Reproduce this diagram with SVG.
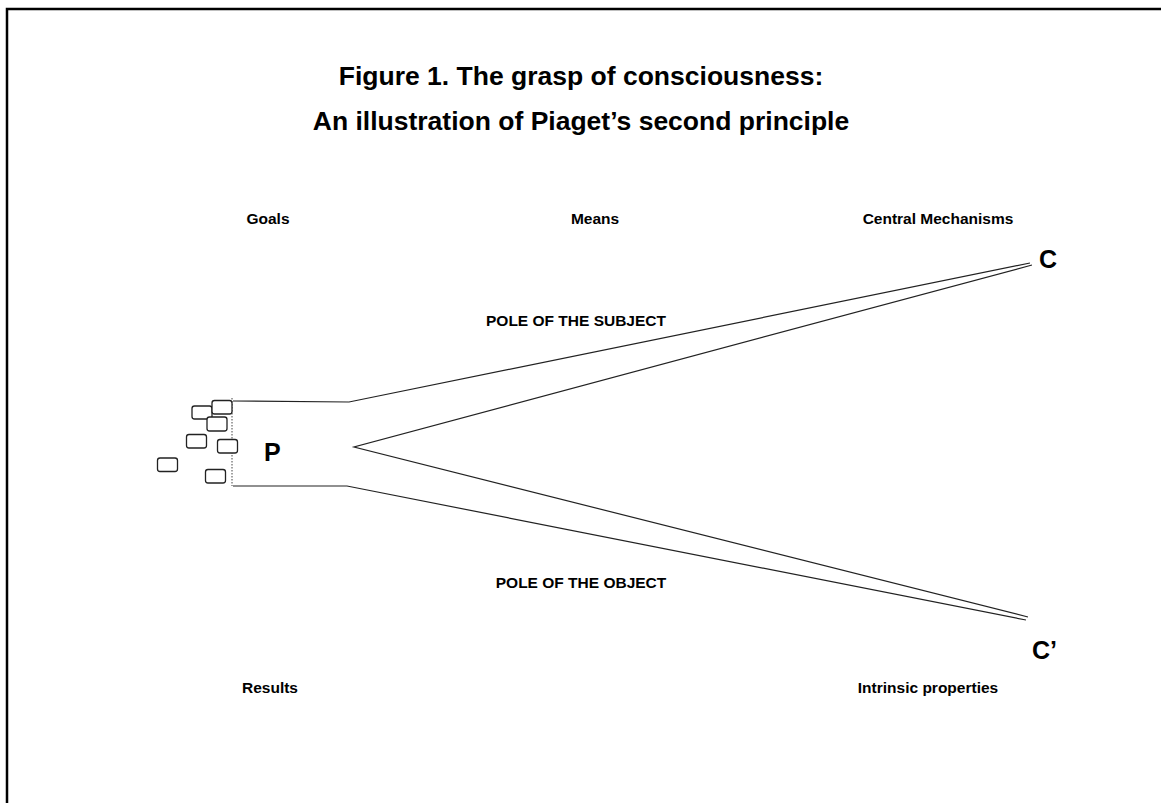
<svg xmlns="http://www.w3.org/2000/svg" width="1161" height="803" viewBox="0 0 1161 803">
<style>
text{font-family:"Liberation Sans",Arial,sans-serif;font-weight:bold;fill:#000}
.t{font-size:26.5px}
.l{font-size:15.5px}
.big{font-size:25px}
.ln{fill:none;stroke:#222;stroke-width:1.2}
.bx{fill:#fff;stroke:#222;stroke-width:1.3}
</style>
<rect width="1161" height="803" fill="#fff"/>
<g id="frame"><path d="M7 803V9H1161" fill="none" stroke="#000" stroke-width="2.5"/></g>
<g id="title">
<text class="t" x="581" y="85" text-anchor="middle">Figure 1. The grasp of consciousness:</text>
<text class="t" x="581" y="130" text-anchor="middle">An illustration of Piaget’s second principle</text>
</g>
<g id="headers">
<text class="l" x="268" y="224" text-anchor="middle">Goals</text>
<text class="l" x="595" y="224" text-anchor="middle">Means</text>
<text class="l" x="938" y="224" text-anchor="middle">Central Mechanisms</text>
<text class="l" x="270" y="693" text-anchor="middle">Results</text>
<text class="l" x="928" y="693" text-anchor="middle">Intrinsic properties</text>
</g>
<g id="connectors">
<polyline class="ln" points="233,401 349,402 1030,263"/>
<polyline class="ln" points="1032,265 354,447 1028,617"/>
<polyline class="ln" points="233,486 347,486 1026,620"/>
<line x1="232" y1="398" x2="232" y2="486" stroke="#444" stroke-width="1" stroke-dasharray="1.5,1.5"/>
</g>
<g id="node-C"><text class="big" x="1039" y="268">C</text></g>
<g id="node-C2"><text class="big" x="1032" y="659">C’</text></g>
<g id="node-P"><text class="big" x="264" y="461">P</text></g>
<g id="pole-subject"><text class="l" x="576" y="326" text-anchor="middle">POLE OF THE SUBJECT</text></g>
<g id="pole-object"><text class="l" x="581" y="588" text-anchor="middle">POLE OF THE OBJECT</text></g>
<g id="boxes">
<rect class="bx" x="192" y="406" width="20" height="13" rx="2.5"/>
<rect class="bx" x="212" y="400.5" width="20" height="13.5" rx="2.5"/>
<rect class="bx" x="207" y="417" width="20" height="14" rx="2.5"/>
<rect class="bx" x="186.5" y="434.5" width="20" height="13.5" rx="2.5"/>
<rect class="bx" x="217.5" y="439.5" width="20" height="13.5" rx="2.5"/>
<rect class="bx" x="157.5" y="458" width="20" height="13.5" rx="2.5"/>
<rect class="bx" x="205.5" y="469.5" width="20" height="13.5" rx="2.5"/>
</g>
</svg>
